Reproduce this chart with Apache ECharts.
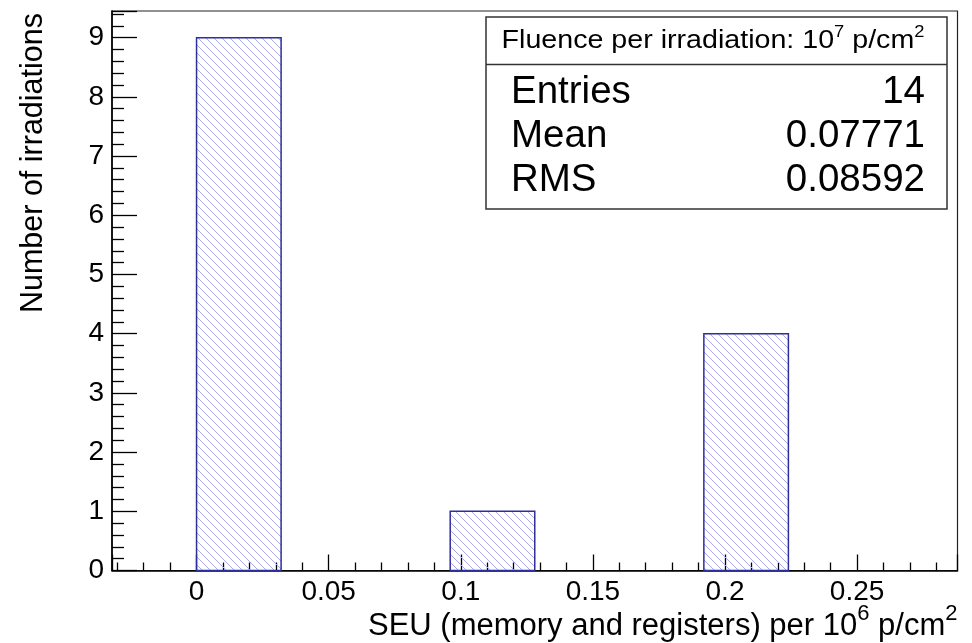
<!DOCTYPE html>
<html>
<head>
<meta charset="utf-8">
<script src="https://cdn.jsdelivr.net/npm/echarts@6/dist/echarts.min.js"></script>
<style>html,body{margin:0;padding:0;background:#fff}#c{width:972px;height:643px}</style>
</head>
<body>
<div id="c"></div>
<script>
// ---- data ----
const binEdges = [-0.032, 0, 0.032, 0.064, 0.096, 0.128, 0.16, 0.192, 0.224, 0.256, 0.288];
const binCounts = [0, 9, 0, 0, 1, 0, 0, 4, 0, 0];
const yMax = 9.45;
const statLabels = ['Entries', 'Mean', 'RMS'];
const statValues = ['14', '0.07771', '0.08592'];
const statTitle = 'Fluence per irradiation: 10{sup|7} p/cm{sup|2}';
const xTitle = 'SEU (memory and registers) per 10{sup|6} p/cm{sup|2}';
const yTitle = 'Number of irradiations';

const FONT = 'Liberation Sans, Arial, Helvetica, sans-serif';

function hatchCanvas() {
  const s = 8;
  const c = document.createElement('canvas');
  c.width = s; c.height = s;
  const g = c.getContext('2d');
  g.strokeStyle = '#a9a9ec';
  g.lineWidth = 1;
  g.beginPath();
  g.moveTo(-1, -1); g.lineTo(s + 1, s + 1);
  g.moveTo(-1, s - 1); g.lineTo(1, s + 1);
  g.moveTo(s - 1, -1); g.lineTo(s + 1, 1);
  g.stroke();
  return c;
}
const pattern = { image: hatchCanvas(), repeat: 'repeat' };

const histData = binCounts.map((v, i) => [binEdges[i], binEdges[i + 1], v]);

const chart = echarts.init(document.getElementById('c'), null, { renderer: 'canvas' });

const tickStyle = { color: '#000', width: 1.3 };

const rowY = [92, 136, 180];
const statGraphics = [
  { type: 'rect', z: 100, shape: { x: 486, y: 17, width: 461, height: 192 },
    style: { fill: '#fff', stroke: '#333', lineWidth: 1.5 } },
  { type: 'line', z: 101, shape: { x1: 486, y1: 64.5, x2: 947, y2: 64.5 },
    style: { stroke: '#333', lineWidth: 1.5 } },
  { type: 'text', z: 102, x: 713, y: 41, scaleX: 1.145,
    style: { text: statTitle, fill: '#000', font: '25px ' + FONT, lineHeight: 32, align: 'center', verticalAlign: 'middle',
      rich: { sup: { fontSize: 16, fontFamily: FONT, fill: '#000', lineHeight: 16, verticalAlign: 'top' } } } }
];
statLabels.forEach((lab, i) => {
  statGraphics.push({ type: 'text', z: 102, x: 511, y: rowY[i],
    style: { text: lab, fill: '#000', font: '38.5px ' + FONT, align: 'left', verticalAlign: 'middle' } });
  statGraphics.push({ type: 'text', z: 102, x: 925, y: rowY[i],
    style: { text: statValues[i], fill: '#000', font: '38.5px ' + FONT, align: 'right', verticalAlign: 'middle' } });
});

chart.setOption({
  animation: false,
  backgroundColor: '#fff',
  grid: { left: 112, top: 11, width: 845.5, height: 559.5, show: true, borderColor: '#222', borderWidth: 1.2,
          containLabel: false, outerBoundsMode: 'none' },
  xAxis: {
    type: 'value', min: binEdges[0], max: binEdges[binEdges.length - 1],
    splitLine: { show: false },
    axisLine: { show: true, onZero: false, lineStyle: { color: '#000', width: 1.6 } },
    axisTick: { show: true, inside: true, length: 16, lineStyle: tickStyle },
    minorTick: { show: true, splitNumber: 5, length: 8, lineStyle: tickStyle },
    axisLabel: { showMinLabel: false, showMaxLabel: false, fontSize: 28, fontFamily: FONT, color: '#000', margin: 8 },
    name: xTitle, nameLocation: 'end', nameGap: 0, nameMoveOverlap: false,
    nameTextStyle: { fontSize: 31, fontFamily: FONT, color: '#000', align: 'right', verticalAlign: 'top',
      lineHeight: 48, padding: [32, 0, 0, 0],
      rich: { sup: { fontSize: 22, fontFamily: FONT, color: '#000', lineHeight: 22, verticalAlign: 'top' } } }
  },
  yAxis: {
    type: 'value', min: 0, max: yMax, interval: 1,
    splitLine: { show: false },
    axisLine: { show: true, onZero: false, lineStyle: { color: '#000', width: 1.6 } },
    axisTick: { show: true, inside: true, length: 25, lineStyle: tickStyle },
    minorTick: { show: true, splitNumber: 5, length: 12, lineStyle: tickStyle },
    axisLabel: { showMaxLabel: false, fontSize: 28, fontFamily: FONT, color: '#000', margin: 8 },
    name: yTitle, nameLocation: 'end', nameGap: -2, nameRotate: 90, nameMoveOverlap: false,
    nameTextStyle: { fontSize: 30.5, fontFamily: FONT, color: '#000', align: 'right', verticalAlign: 'bottom',
      padding: [0, 0, 63, 0] }
  },
  series: [{
    type: 'custom',
    silent: true,
    data: histData,
    encode: { x: [0, 1], y: 2 },
    renderItem: function (params, api) {
      const lo = api.value(0), hi = api.value(1), v = api.value(2);
      if (!v) return { type: 'group', children: [] };
      const a = api.coord([lo, 0]);
      const b = api.coord([hi, v]);
      return {
        type: 'rect',
        shape: { x: a[0], y: b[1], width: b[0] - a[0], height: a[1] - b[1] },
        style: { fill: pattern, stroke: '#2f2f9c', lineWidth: 1.5 }
      };
    }
  }],
  graphic: statGraphics
});
</script>
</body>
</html>
